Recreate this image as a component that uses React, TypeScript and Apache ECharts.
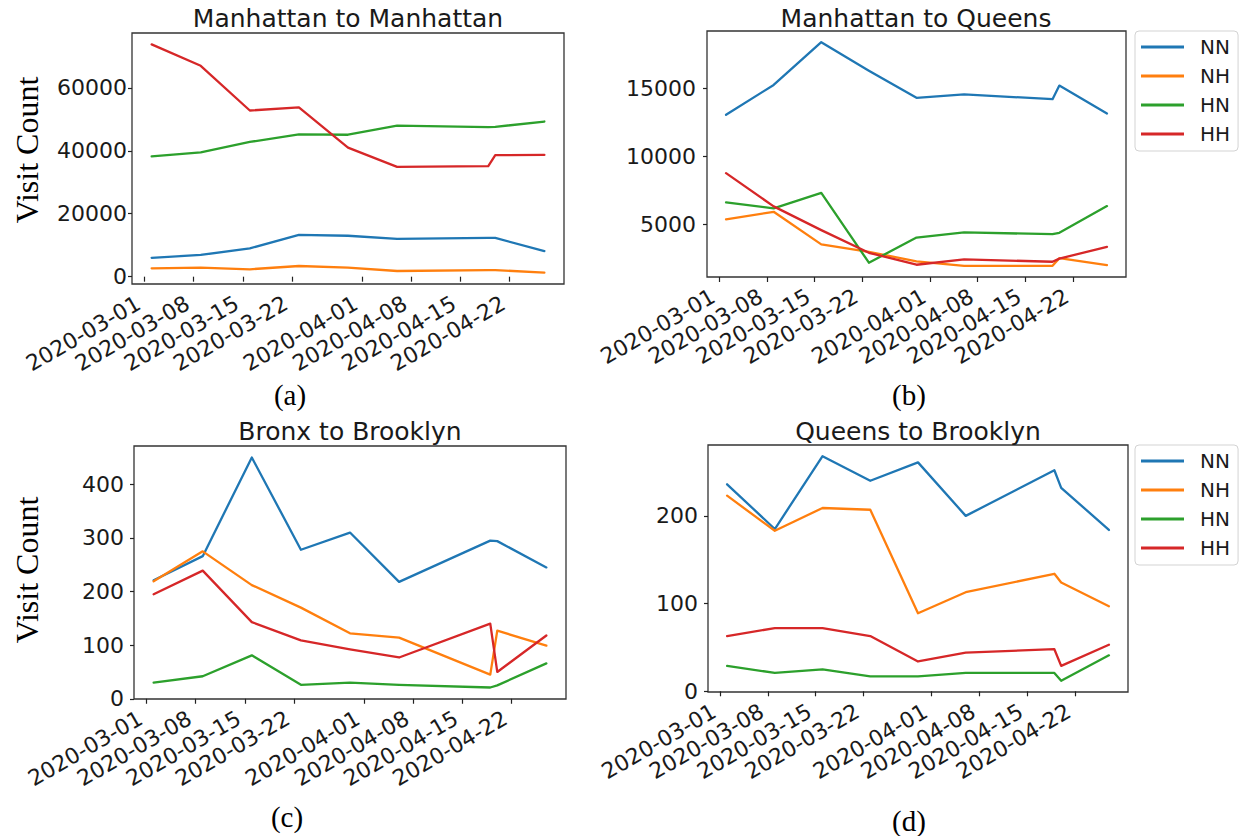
import React, { useEffect, useRef } from "react";
import * as echarts from "echarts";

// ---------- data ----------
const dates = [
  "2020-03-02", "2020-03-09", "2020-03-16", "2020-03-23", "2020-03-30",
  "2020-04-06", "2020-04-19", "2020-04-20", "2020-04-27",
];
const tickDates = [
  "2020-03-01", "2020-03-08", "2020-03-15", "2020-03-22",
  "2020-04-01", "2020-04-08", "2020-04-15", "2020-04-22",
];
const seriesNames = ["NN", "NH", "HN", "HH"];

// (a) Manhattan to Manhattan
const mmNN = [6000, 6900, 9000, 13300, 13000, 12000, 12350, 12300, 8150];
const mmNH = [2650, 2850, 2350, 3400, 2850, 1800, 2100, 2100, 1300];
const mmHN = [38200, 39500, 42800, 45200, 45100, 48000, 47500, 47600, 49300];
const mmHH = [73800, 67000, 52800, 53800, 41000, 34900, 35100, 38600, 38700];
const mmTicks = [0, 20000, 40000, 60000];

// (b) Manhattan to Queens
const mqNN = [13050, 15250, 18400, 16300, 14300, 14550, 14200, 15200, 13150];
const mqNH = [5350, 5900, 3500, 2950, 2250, 1920, 1920, 2480, 1970];
const mqHN = [6600, 6150, 7300, 2150, 4000, 4380, 4250, 4350, 6320];
const mqHH = [8750, 6300, 4550, 2880, 2000, 2400, 2220, 2450, 3320];
const mqTicks = [5000, 10000, 15000];

// (c) Bronx to Brooklyn
const bbNN = [221, 266, 450, 278, 310, 218, 295, 294, 245];
const bbNH = [219, 275, 212, 170, 122, 114, 45, 127, 99];
const bbHN = [30, 42, 81, 26, 30, 26, 21, 25, 66];
const bbHH = [195, 239, 143, 109, 92, 77, 140, 50, 118];
const bbTicks = [0, 100, 200, 300, 400];

// (d) Queens to Brooklyn
const qbNN = [236, 185, 268, 240, 261, 200, 252, 232, 184];
const qbNH = [223, 183, 209, 207, 89, 113, 134, 124, 97];
const qbHN = [29, 21, 25, 17, 17, 21, 21, 12, 41];
const qbHH = [63, 72, 72, 63, 34, 44, 48, 29, 53];
const qbTicks = [0, 100, 200];

const titles = ["Manhattan to Manhattan", "Manhattan to Queens", "Bronx to Brooklyn", "Queens to Brooklyn"];
const captions = ["(a)", "(b)", "(c)", "(d)"];
const yLabel = "Visit Count";

// ---------- layout / style ----------
const colors = ["#1f77b4", "#ff7f0e", "#2ca02c", "#d62728"];
const grids = [
  { left: 132, top: 33, width: 432, height: 251 },
  { left: 707, top: 31, width: 419, height: 246 },
  { left: 134, top: 446, width: 432, height: 253 },
  { left: 708, top: 445, width: 420, height: 247 },
];
const yLabelMargin = [5, 11, 10, 10];
const titlePos = [[348, 18], [916, 18], [350, 431], [918, 431]];
const captionPos = [[290, 395], [909, 395], [287, 817], [909, 821]];
const yLabelPos = [[27, 150], [27, 570]];
const legendTops = [31, 445];

const SANS = "DejaVu Sans";
const SERIF = "Liberation Serif";
const TICK_FS = 22;

const DAY = 86400000;
const toDay = (s: string) => {
  const [y, m, d] = s.split("-").map(Number);
  return Date.UTC(y, m - 1, d) / DAY;
};
const fmtDay = (v: number) => new Date(Math.round(v) * DAY).toISOString().slice(0, 10);

export default function App() {
  const ref = useRef<HTMLDivElement>(null);

  useEffect(() => {
    document.body.style.margin = "0";
    if (!ref.current) return;
    const chart = echarts.init(ref.current, undefined, { renderer: "svg" });

    const panelData = [
      { values: [mmNN, mmNH, mmHN, mmHH], ticks: mmTicks },
      { values: [mqNN, mqNH, mqHN, mqHH], ticks: mqTicks },
      { values: [bbNN, bbNH, bbHN, bbHH], ticks: bbTicks },
      { values: [qbNN, qbNH, qbHN, qbHH], ticks: qbTicks },
    ];

    const xs = dates.map(toDay);
    const x0 = Math.min(...xs);
    const x1 = Math.max(...xs);
    const xPad = (x1 - x0) * 0.05;
    const xTicks = tickDates.map(toDay);

    const xAxis: any[] = [];
    const yAxis: any[] = [];
    const series: any[] = [];

    panelData.forEach((p, i) => {
      const all = p.values.flat();
      const lo = Math.min(...all);
      const hi = Math.max(...all);
      const pad = (hi - lo) * 0.05;
      xAxis.push({
        type: "value",
        gridIndex: i,
        min: x0 - xPad,
        max: x1 + xPad,
        splitLine: { show: false },
        axisLine: { show: false },
        axisTick: { show: true, length: 5, customValues: xTicks, lineStyle: { color: "#222", width: 1.2 } },
        axisLabel: {
          customValues: xTicks,
          formatter: (v: number) => fmtDay(v),
          rotate: 30,
          margin: 14,
          padding: [0, 7, 0, 0],
          fontSize: TICK_FS,
          fontFamily: SANS,
          color: "#1a1a1a",
        },
      });
      yAxis.push({
        type: "value",
        gridIndex: i,
        min: lo - pad,
        max: hi + pad,
        splitLine: { show: false },
        axisLine: { show: false },
        axisTick: { show: true, length: 4, customValues: p.ticks, lineStyle: { color: "#222", width: 1.2 } },
        axisLabel: {
          customValues: p.ticks,
          formatter: (v: number) => String(Math.round(v)),
          margin: yLabelMargin[i],
          fontSize: TICK_FS,
          fontFamily: SANS,
          color: "#1a1a1a",
        },
      });
      p.values.forEach((vals, k) => {
        series.push({
          type: "line",
          name: seriesNames[k],
          xAxisIndex: i,
          yAxisIndex: i,
          data: xs.map((x, j) => [x, vals[j]]),
          symbol: "none",
          silent: true,
          color: colors[k],
          lineStyle: { color: colors[k], width: 2.3, join: "round", cap: "round" },
          z: 2,
        });
      });
    });

    const graphic: any[] = [];
    titles.forEach((t, i) => {
      graphic.push({
        type: "text",
        x: titlePos[i][0],
        y: titlePos[i][1],
        style: {
          text: t, fontSize: 25, fontFamily: SANS, fill: "#1a1a1a",
          align: "center", verticalAlign: "middle", textAlign: "center", textVerticalAlign: "middle",
        },
      });
    });
    captions.forEach((t, i) => {
      graphic.push({
        type: "text",
        x: captionPos[i][0],
        y: captionPos[i][1],
        style: {
          text: t, fontSize: 29, fontFamily: SERIF, fill: "#000",
          align: "center", verticalAlign: "middle", textAlign: "center", textVerticalAlign: "middle",
        },
      });
    });
    yLabelPos.forEach((p) => {
      graphic.push({
        type: "text",
        x: p[0],
        y: p[1],
        rotation: Math.PI / 2,
        style: {
          text: yLabel, fontSize: 32, fontFamily: SERIF, fill: "#000",
          align: "center", verticalAlign: "middle", textAlign: "center", textVerticalAlign: "middle",
        },
      });
    });

    const legend = legendTops.map((top) => ({
      data: seriesNames,
      orient: "vertical",
      left: 1135,
      top,
      icon: "rect",
      itemWidth: 43,
      itemHeight: 3,
      itemGap: 9,
      selectedMode: false,
      textStyle: { fontSize: 20, fontFamily: SANS, color: "#1a1a1a", lineHeight: 20, padding: [0, 0, 0, 11] },
      borderColor: "#d3d3d3",
      borderWidth: 1,
      borderRadius: 4,
      backgroundColor: "#fff",
      padding: [6, 8, 7, 6],
    }));

    chart.setOption({
      animation: false,
      backgroundColor: "#fff",
      grid: grids.map((g) => ({ ...g, show: true, borderColor: "#333", borderWidth: 1.3, backgroundColor: "transparent", containLabel: false })),
      xAxis,
      yAxis,
      series,
      legend,
      graphic,
    });

    return () => chart.dispose();
  }, []);

  return <div ref={ref} style={{ width: 1241, height: 836 }} />;
}
